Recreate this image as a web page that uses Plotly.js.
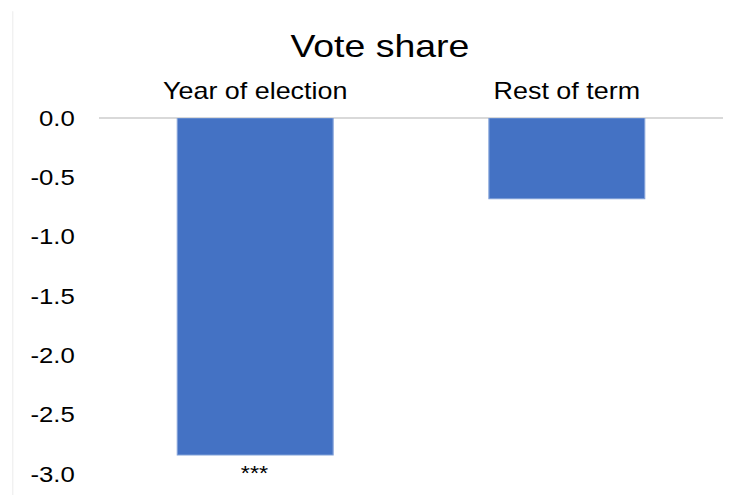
<!DOCTYPE html>
<html>
<head>
<meta charset="utf-8">
<script src="https://cdn.plot.ly/plotly-3.0.1.min.js"></script>
<style>
html,body{margin:0;padding:0;background:#fff;overflow:hidden;}
#wrap{width:739px;height:495px;overflow:hidden;}
#chart{width:632px;height:495px;transform:scaleX(1.1693);transform-origin:0 0;}
</style>
</head>
<body>
<div id="wrap"><div id="chart"></div></div>
<script>
const categories = ["Year of election", "Rest of term"];
const values = [-2.84, -0.68];
const significance = ["***", ""];
const tickVals = [0, -0.5, -1, -1.5, -2, -2.5, -3];
const tickText = ["0.0", "-0.5", "-1.0", "-1.5", "-2.0", "-2.5", "-3.0"];

const FONT = 'Liberation Sans, Arial, sans-serif';

const trace = {
  type: 'bar',
  x: categories,
  y: values,
  marker: {color: '#4472C4', line: {color: '#7f9fd8', width: 1}},
  hoverinfo: 'none'
};

const annotations = categories.map((c, i) => ({
  x: c, y: values[i], xref: 'x', yref: 'y',
  text: significance[i], showarrow: false,
  yanchor: 'top', yshift: -5,
  font: {family: FONT, size: 20, color: '#000'}
})).filter(a => a.text);

const layout = {
  width: 632, height: 495,
  margin: {l: 85, r: 14, t: 118, b: 21},
  paper_bgcolor: '#fff', plot_bgcolor: '#fff',
  title: {text: 'Vote share', xref: 'container', x: 0.514, xanchor: 'center', y: 0.907, yanchor: 'middle',
          font: {family: FONT, size: 32, color: '#000'}},
  bargap: 0.5,
  showlegend: false,
  xaxis: {side: 'top', showgrid: false, showline: false, ticks: '', zeroline: false,
          ticklabelstandoff: 13,
          tickfont: {family: FONT, size: 23, color: '#000'}},
  yaxis: {range: [-3, 0], autorange: false, showgrid: false, zeroline: true,
          zerolinecolor: '#d9d9d9', zerolinewidth: 2, showline: false, ticks: '',
          tickvals: tickVals, ticktext: tickText, ticklabelstandoff: 20,
          tickfont: {family: FONT, size: 22, color: '#000'}},
  annotations: annotations,
  shapes: [{type: 'line', xref: 'paper', yref: 'paper', x0: -0.139, x1: -0.139, y0: -0.06, y1: 1.3,
            line: {color: '#eeeeee', width: 1}}]
};

Plotly.newPlot('chart', [trace], layout, {staticPlot: true, displayModeBar: false});
</script>
</body>
</html>
